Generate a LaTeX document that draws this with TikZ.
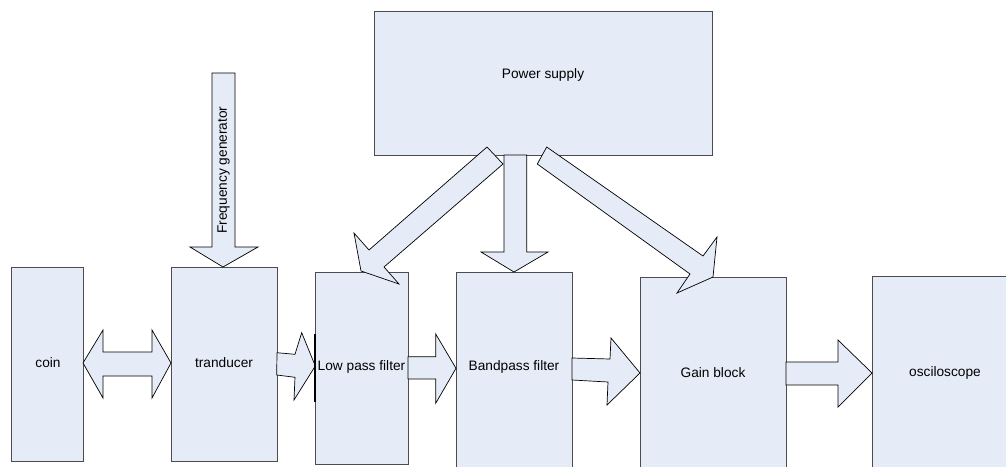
\documentclass[tikz,border=0pt]{standalone}
\usepackage{fontspec}
\setmainfont{Liberation Sans}
\definecolor{boxfill}{RGB}{230,236,247}
\begin{document}
\begin{tikzpicture}[x=1pt,y=-1pt,
  box/.style={draw=black!70,line width=0.8pt,fill=boxfill,rectangle,inner sep=0pt,anchor=north west},
  blockarrow/.style={draw=black,line width=0.7pt,fill=boxfill,line join=miter},
  lbl/.style={font=\fontsize{13.7}{16}\selectfont,inner sep=0pt}]
\useasboundingbox (0,0) rectangle (1006,466);
% boxes
\node[box,minimum width=72pt,minimum height=194pt] (coin) at (11,267) {};
\node[box,minimum width=106pt,minimum height=194pt] (trans) at (171,267) {};
\node[box,minimum width=93pt,minimum height=192pt] (lpf) at (315,272) {};
\node[box,minimum width=116pt,minimum height=200pt] (bpf) at (456,272) {};
\node[box,minimum width=146pt,minimum height=200pt] (gain) at (640,277) {};
\node[box,minimum width=150pt,minimum height=200pt] (osc) at (872,276) {};
\node[box,minimum width=338pt,minimum height=144pt] (power) at (374,11) {};
% labels
\node[lbl] (tcoin) at (48,363) {coin};
\node[lbl] (ttrans) at (224,363) {tranducer};
\node[lbl] (tlpf) at (361.5,367) {Low pass filter};
\node[lbl] (tbpf) at (514,367) {Bandpass filter};
\node[lbl] (tgain) at (713,373) {Gain block};
\node[lbl] (tosc) at (945,373) {osciloscope};
\node[lbl] (tpower) at (543,75) {Power supply};
% coin <-> tranducer
\draw[blockarrow] (83,363) -- (103,330) -- (103,352) -- (152,352) -- (152,330) -- (171,363)
  -- (152,398) -- (152,376) -- (103,376) -- (103,398) -- cycle;
% tranducer -> low pass
\draw[blockarrow] (277,352.7) -- (295,354.3) -- (301.7,332.7) -- (315.3,366) -- (294,400)
  -- (295,377.3) -- (276.7,375) -- cycle;
\draw[line width=2pt] (315,334) -- (315,402);
% low pass -> bandpass
\draw[blockarrow] (408,356.7) -- (435.7,356.7) -- (435.7,334) -- (456,368.3) -- (435.7,403.3)
  -- (435.7,379) -- (408,379) -- cycle;
% bandpass -> gain
\draw[blockarrow] (572,358) -- (610,359) -- (611,338) -- (640,373) -- (607,405)
  -- (608,382) -- (572,380) -- cycle;
% gain -> osciloscope
\draw[blockarrow] (786,362) -- (838,362) -- (838,340) -- (872,373) -- (838,407)
  -- (838,385) -- (786,385) -- cycle;
% frequency generator
\draw[blockarrow] (212,73) -- (235,73) -- (235,247) -- (258,247) -- (223,267) -- (190,247)
  -- (212,247) -- cycle;
\node[lbl,rotate=90] (tfreq) at (223.5,170) {Frequency generator};
% power supply -> bandpass
\draw[blockarrow] (504,155) -- (526.7,155) -- (526.7,252) -- (548,252) -- (514,272) -- (481,252)
  -- (504,252) -- cycle;
% power supply -> low pass
\draw[blockarrow] (487,147) -- (503,164) -- (384,267) -- (399,284) -- (361,271) -- (354,233)
  -- (369,250) -- cycle;
% power supply -> gain
\draw[blockarrow] (546.7,147) -- (703,256) -- (717,237) -- (713,277) -- (677,293)
  -- (690,274) -- (537.3,164) -- cycle;
\end{tikzpicture}
\end{document}
